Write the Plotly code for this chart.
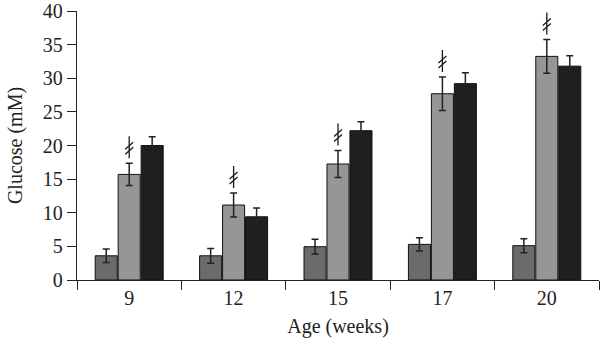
import plotly.graph_objects as go

ages = ["9", "12", "15", "17", "20"]
group_a = [3.6, 3.6, 4.95, 5.3, 5.1]
group_a_err = [1.0, 1.1, 1.1, 1.0, 1.05]
group_b = [15.7, 11.15, 17.25, 27.7, 33.25]
group_b_err = [1.65, 1.8, 2.0, 2.5, 2.5]
group_c = [20.0, 9.4, 22.2, 29.2, 31.8]
group_c_err = [1.3, 1.3, 1.35, 1.6, 1.55]
y_ticks = [0, 5, 10, 15, 20, 25, 30, 35, 40]

colors = ["#6b6b6b", "#969696", "#1f1f1f"]
series = [(group_a, group_a_err), (group_b, group_b_err), (group_c, group_c_err)]
names = ["A", "B", "C"]

fig = go.Figure()
for (vals, errs), col, nm in zip(series, colors, names):
    fig.add_trace(go.Bar(
        x=ages, y=vals, name=nm,
        marker=dict(color=col, line=dict(color="#111111", width=1)),
        error_y=dict(type="data", array=errs, visible=True,
                     color="#222222", thickness=1.5, width=3.5),
    ))

# significance markers above middle bars
for i, (v, e) in enumerate(zip(group_b, group_b_err)):
    fig.add_shape(type="path", xref="x", yref="y",
                  xsizemode="pixel", ysizemode="pixel",
                  xanchor=i, yanchor=v + e,
                  path="M 0,5 L 0,27 M -4,9 L 4,16 M -4,14 L 4,21",
                  line=dict(color="#1a1a1a", width=1.3))

font = "Liberation Serif, Times New Roman, serif"
fig.update_layout(
    width=600, height=351,
    margin=dict(l=77, r=1, t=11, b=71),
    paper_bgcolor="white", plot_bgcolor="white",
    showlegend=False,
    barmode="group", bargap=0.34, bargroupgap=0.04,
    font=dict(family=font, size=20, color="#222222"),
)
fig.update_xaxes(
    type="category", range=[-0.5, 4.5],
    showline=True, linecolor="#222222", linewidth=1.3,
    ticks="outside", tickson="boundaries", ticklen=9, tickcolor="#222222",
    tickwidth=1.3, showgrid=False,
    title=dict(text="Age (weeks)", standoff=10, font=dict(size=20)),
    tickfont=dict(size=20),
)
fig.update_yaxes(
    range=[0, 40], tickvals=y_ticks,
    showline=True, linecolor="#222222", linewidth=1.3,
    ticks="outside", ticklen=9, tickcolor="#222222", tickwidth=1.3,
    showgrid=False, zeroline=False,
    title=dict(text="Glucose (mM)", standoff=14, font=dict(size=20)),
    tickfont=dict(size=20),
)

fig.write_html("out.html")
